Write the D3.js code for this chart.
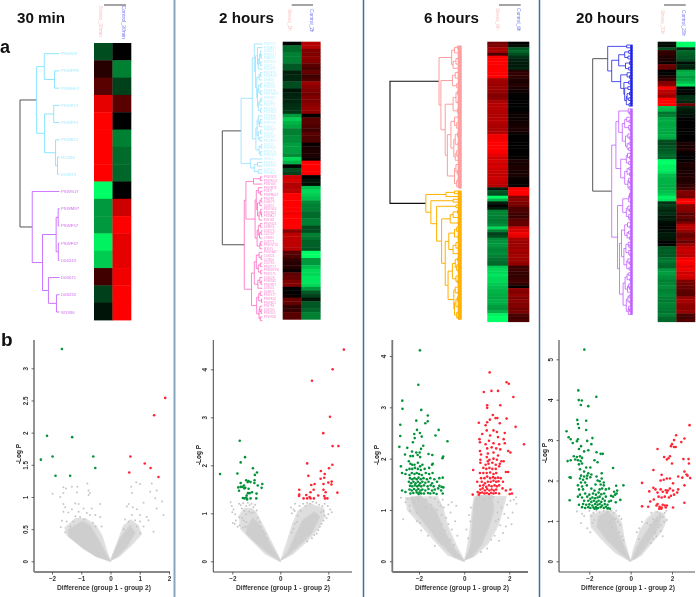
<!DOCTYPE html>
<html><head><meta charset="utf-8">
<script src="https://cdn.jsdelivr.net/npm/d3@7"></script>
<style>html,body{margin:0;padding:0;background:#fff}svg{display:block;font-family:"Liberation Sans",Arial,sans-serif;filter:blur(.45px)}</style>
</head><body><script>
// ---------- titles ----------
const panelTitles=["30 min","2 hours","6 hours","20 hours"];
const colHeaders=[["Stress_30min","Control_30min"],["Stress_2h","Control_2h"],["Stress_6h","Control_6h"],["Stress_20h","Control_20h"]];
// ---------- heatmap values ----------
const h30a=[-.3,.15,.35,.9,1,1,1,1,-1,-.6,-.6,-.95,-.8,.25,-.25,-.08];
const h30b=[0,-.5,-.25,.35,0,-.5,-.42,-.4,0,.8,1,.9,.9,.95,1,1];
const h2a=[0,-.42,-.42,-.5,-.5,-.5,-.35,-.35,-.12,-.15,-.15,-.3,-.3,-.08,-.13,-.15,-.15,-.18,-.2,-.22,-.6,-.8,-.7,-.65,-.5,-.5,-.55,-.55,-.62,-.62,-.62,-.55,-.85,-.7,0,-.3,-.25,
.8,.85,.7,.7,.75,1,1,1,1,1,.95,1,1,1,1,.55,.75,.75,.75,.75,.7,.35,.3,.2,.15,.15,.05,.38,.4,.5,.5,0,0,.03,.4,.4,.2,.22,.35,.35];
const h2b=[.7,.7,.5,.5,.55,.5,.35,.3,.4,.25,.3,.6,.55,.5,.45,.5,.5,.55,.6,.55,0,.35,.35,.3,.25,.35,.3,.3,.03,.1,.12,.12,.05,1,1,1,1,
.02,-.08,-.05,-.75,-.85,-.8,-.75,-.55,-.5,-.5,-.42,-.42,-.5,-.5,-.3,-.3,-.5,-.45,-.38,-.38,-.35,-1,-1,-.6,-.6,-.75,-.85,-.85,-.9,-.9,-.85,-.6,-.35,-.25,-.08,-.35,-.35,-.4,-.5,-.5];
const h6a=[.45,.5,.65,.65,.3,.98,1,1,.98,1,1,.98,1,.65,.62,.6,.62,.58,.55,.5,.55,.68,.7,.72,.7,.68,.68,.7,.72,.68,.66,.68,.7,.95,.95,.98,1,1,1,.98,.9,.82,.85,.8,.85,.8,.78,.75,.8,.78,.75,.72,
-.1,-.35,-.3,-1,-.7,-.12,0,-.1,-.5,-.52,-.5,-.48,-.5,-.55,-.85,-.5,-.25,-.3,-.55,-.58,-.6,-.55,-.52,-.55,-.5,-.45,-.42,-.4,-.8,-.85,-.85,-.9,-.85,-.85,-.8,-.75,-.72,-.7,-.68,-.65,-.7,-.68,-.62,-.6,-.7,-.95,-1,-1];
const h6b=[0,-.05,-.35,-.4,-.3,-.2,-.12,-.1,-.1,-.15,.15,.2,.18,.12,.1,.15,.1,.06,.03,-.01,0,0,0,-.02,0,.03,.05,.04,.06,.08,.1,.1,.06,0,0,.01,0,0,0,0,0,.02,.1,.08,.12,.12,.08,.1,.06,.03,.02,.03,
1,1,1,.5,.55,.5,.45,.3,.3,.25,.22,.35,.4,.4,.8,.85,.95,.9,.65,.6,.62,.6,.65,.6,.65,.62,.6,.55,.22,.25,.2,.2,.22,.25,.2,.02,.55,.5,.58,.5,.55,.5,.52,.45,.48,.3,.25,.3];
const h20a=[-.05,-.03,-.3,.2,.18,.12,.1,.05,.4,.4,0,-.02,.1,.2,.5,.55,1,.75,.7,.6,1,1,1,-.75,-.7,-.45,-.5,-.65,-.68,-.65,-.67,-.66,-.65,-.7,-.65,-.3,-.28,-.32,-.35,-.38,-.42,-.4,-1,-1,-.95,-.95,-.9,-.75,-.72,-.7,-.7,-.68,-.7,-.75,-.8,-.95,-.9,-.2,-.25,-.2,-.15,-.18,-.1,-.12,-.05,-.03,-.02,-.05,-.1,-.1,-.08,0,-.02,-.35,-.38,-.36,-.35,-.45,-.48,-.42,-.4,-.6,-.62,-.58,-.55,-.5,-.52,-.55,-.5,-.52,-.55,-.5,-.48,-.52,-.5,-.48,-.45,-.5,-.42,-.4];
const h20b=[-1,-1,-.15,-.4,-.38,-.35,-.3,-.05,-.15,-.12,-.65,-.7,-.6,-.65,-.75,-.9,-.02,-.03,0,-.18,-.2,-.15,.4,-.15,-.1,-.08,-.06,0,0,.01,0,0,-.01,0,0,.03,.12,.08,.15,.03,.02,0,.03,.1,.12,.08,.1,.1,.14,.12,.14,.18,.25,.5,.5,.45,1,1,.55,.55,.5,.35,.4,.3,.45,.7,.75,.6,.45,.4,.5,.4,.6,.75,.8,.75,.72,.95,1,.95,.9,.95,.8,.85,.8,.5,.45,.42,.4,.35,.35,.6,.65,.6,.55,.55,.6,.3,.28,.32];
// ---------- dendrogram: merge height between each pair of neighbouring leaves ----------
const g30=[.385,.128,.58,.146,.377,.1,.05,1,.69,.033,.085,.03,.43,.28,.077];
const g2=[.2,.12,.05,.03,.07,.04,.1,.17,.05,.08,.14,.04,.09,.05,.12,.03,.06,.1,.04,.25,.1,.05,.07,.13,.04,.1,.06,.16,.03,.08,.05,.53,.3,.12,.2,.1,1,
.05,.22,.41,.1,.05,.15,.03,.06,.12,.04,.02,.08,.18,.05,.1,.03,.07,.13,.04,.06,.45,.08,.03,.15,.05,.1,.04,.2,.06,.03,.11,.27,.05,.09,.02,.14,.06,.03,.08,.05];
const g6=[.06,.1,.04,.14,.05,.08,.03,.12,.316,.05,.09,.03,.13,.04,.07,.29,.06,.04,.08,.03,.05,.12,.03,.06,.23,.05,.1,.04,.07,.03,.15,.06,.04,.09,.03,.05,.11,.04,.07,.05,.09,.2,.04,.08,.03,.06,.1,.04,.05,.07,.03,
1,.1,.22,.5,.12,.43,.08,.35,.06,.12,.04,.16,.05,.28,.07,.04,.1,.05,.18,.03,.08,.05,.12,.04,.23,.06,.09,.04,.07,.05,.13,.03,.08,.06,.19,.04,.09,.05,.11,.06,.04,.08,.05,.1,.04,.07,.05];
const g20=[.15,.625,.1,.2,.12,.35,.08,.18,.1,.525,.14,.08,.3,.1,.22,.12,.2,.08,.14,.1,.16,.09,
1,.11,.08,.35,.15,.09,.2,.1,.07,.26,.12,.08,.18,.09,.14,.1,.42,.13,.08,.16,.1,.3,.09,.14,.08,.2,.1,.07,.12,.09,.525,.06,.08,.1,.05,.25,.12,.08,.16,.1,.09,.38,.13,.07,.2,.1,.14,.08,.28,.11,.09,.17,.1,.07,.22,.12,.08,.15,.09,.33,.1,.14,.07,.19,.1,.08,.13,.24,.09,.12,.07,.16,.1,.08,.11];
// ---------- leaf labels ----------
const leaves30=["PSWSI2","PSWFP8","PSWHU7","PSWK57","PSWFP1","PSWB21","H1I186","D06872","PSWGJ7","PSWM97","PSWF57","PSWF67","D06243","D06671","D08232","W1936"];
const leaves2=["PSWC57","PSWA91","D08614","PSWC17","PSA131","PSWD51","D08712","PSWK37","PSWP29","PSWA137","D08882","D09622","PSWL91","PSWP19","PSWGA37","PSWH21","D07161","PSWT37","PSWD27","PSWM31","PSWE63","PSWD87","PSWC61","D06971","PSWB17","P03281","PSWL47","PSWR71","D05521","PSWN13","PSWT19","PSWG83","W1411","PSWK71","PSWP97","D07151","PSWA53",
"PSWG28","PSWF022","PSWL66","PSWM78","P0977","PSWM607","PSWF9","D06973","D05857","PSWG24","PSWN67","PSWA17","P09168","PSWG21","D08854","D08773","C02787","L79985","D08771","PSWG770","M3971","PSWGA7","C09224","L02856","D05765","PSWT27","PSWLN791","PSWL75","D06028","PSWS32","PSWH27","D08561","D08874","PSWL77","PSWK02","PSWB21","P96794","D06780","PSW105","PSWS58"];
// ---------- volcano points [difference, -log p] ----------
const g30min=[[-1.66,3.3],[-2.17,1.95],[-1.31,1.93],[-2.38,1.58],[-1.98,1.63],[-.59,1.63],[-.52,1.45],[-1.88,1.33],[-1.38,1.33]];
const r30min=[[1.87,2.54],[1.49,2.27],[.68,1.63],[1.17,1.52],[1.37,1.45],[.64,1.38],[1.64,1.31]];
const n30min=[[-1.61,1.15],[-1.52,1.13],[-1.32,1.16],[-1.13,1.16],[-.79,1.21],[-1.61,1.06],[-1.98,1.05],[-1.72,1],[-1.15,1.07],[-.75,1.1],[-.7,1.06],[-.75,1.03],[-1.21,.9],[-1.09,.89],[-1.61,.89],[-1.55,.84],[-1.32,.81],[-.92,.82],[-.64,.82],[-.35,.89],[-1.61,.77],[-1.44,.76],[-1.09,.77],[-.81,.75],[-.7,.72],[-.52,.72],[-1.66,.63],[-1.27,.62],[-1.04,.69],[-1.7,.53],[-1.38,.54],[-.35,.69],[-.3,.54],[-.52,.54],[-1.5,.62],[-1.2,.7],[-.9,.65],[-.6,.6],[-1.55,.45],
[.71,1.16],[.88,1.23],[1.01,1.2],[1.41,1.21],[1.36,1.08],[1.58,1.1],[.73,1.06],[1.76,.93],[1.13,.91],[1.53,.98],[.62,.89],[.56,.85],[.76,.84],[.9,.81],[1.01,.72],[1.58,.82],[1.81,.72],[.73,.72],[1.24,.69],[1.47,.46],[1.3,.64],[.84,.64],[1.01,.62],[1.13,.54],[.9,.54],[1.01,.44],[.5,.65],[.62,.62],[.45,.5]];
const core30min=[[[0,0],[-.47,.07],[-.92,.2],[-1.44,.39],[-1.44,.49],[-.98,.62],[-.7,.56],[-.41,.33],[-.1,.07]],[[.02,.02],[.16,.18],[.33,.36],[.67,.56],[.84,.44],[.56,.23],[.22,.07]]];
const halo30min=[[[0,0],[-.5,.1],[-1,.25],[-1.5,.42],[-1.55,.52],[-1.2,.66],[-.85,.66],[-.5,.55],[-.3,.4],[-.12,.14]],[[.02,.02],[.3,.08],[.7,.25],[1.05,.42],[.95,.55],[.7,.64],[.45,.55],[.25,.3],[.08,.1]]];
const g2h=[[-2.51,1.82],[-1.69,2.51],[-1.47,2.17],[-1.65,2.06],[-1.14,1.94],[-1.79,1.83],[-.97,1.85],[-1.06,1.8],[-1.65,1.63],[-1.42,1.69],[-1.32,1.67],[-1.24,1.65],[-1.07,1.69],[-1.08,1.63],[-.75,1.61],[-.94,1.58],[-.78,1.53],[-1.51,1.58],[-1.75,1.54],[-1.65,1.55],[-1.46,1.53],[-1.32,1.51],[-1.72,1.47],[-1.18,1.44],[-.99,1.41],[-1.35,1.42],[-1.4,1.37],[-1,1.31],[-1.24,1.31],[-1.56,1.32],[-1.49,1.31],[-1.42,1.33],[-1.38,1.29],[-1.36,1.65],[-1.58,1.55],[-1.5,1.52],[-1.28,1.42]];
const r2h=[[2.65,4.41],[2.18,4],[1.32,3.76],[2.07,3.01],[1.79,2.67],[2.18,2.4],[2.42,2.4],[1.12,2.04],[2.17,2.01],[2.03,1.94],[1.69,1.88],[1.17,1.78],[1.85,1.82],[1.83,1.74],[1.68,1.72],[2.14,1.66],[2,1.64],[1.8,1.61],[2.13,1.6],[1.43,1.61],[1.29,1.59],[.79,1.49],[1.8,1.49],[1.39,1.49],[1.89,1.44],[1.26,1.44],[2.38,1.43],[.79,1.39],[.78,1.36],[1.08,1.38],[1.58,1.37],[1.83,1.36],[1.22,1.34],[.97,1.31],[1.12,1.31],[1.26,1.31],[1.4,1.31],[1.86,1.31],[1.96,1.31]];
const n2h=[[-2.07,1.23],[-2.02,1.15],[-1.95,1.08],[-2,1.02],[-1.88,.98],[-1.98,.8],[-1.85,.85],[-1.9,.78],[-1.78,.72],[-1.72,1.2],[-1.65,1.17],[-1.55,1.21],[-1.6,1.1],[-1.5,1.05],[-1.42,1.15],[-1.35,1.22],[-1.28,1.17],[-1.2,1.2],[-1.12,1.13],[-1.05,1.18],[-1.42,.98],[-1.3,1.03],[-1.2,1],[-1.1,1.02],[-.98,1.06],[-1.72,.92],[-1.6,.9],[-1.52,.85],[-1.42,.82],[-1.7,.75],[-1.55,.7],[-1.45,.72],[-.95,.9],[-.85,.82],[-.8,.72],[-.7,.62],[-.62,.58],[-.55,.48],
[.45,1.12],[.48,1],[.55,1.08],[.62,1.2],[.6,1.05],[.72,.95],[.8,1.15],[.85,1.05],[.7,.82],[.6,.78],[.55,.68],[.48,.6],[.95,1.2],[1.05,1.15],[1.12,1.22],[1.25,1.2],[1.35,1.24],[1.5,1.22],[1.62,1.18],[1.75,1.15],[1.85,1.2],[1.98,1.15],[2.08,1.08],[2.15,1.02],[1.8,1.05],[1.7,1.02],[1.85,.95],[1.92,.9],[1.8,.85],[1.72,.78],[1.65,.72],[1.58,.65],[1.52,.58],[1.42,.55],[1.32,.48],[1.12,.42],[2,.98]];
const core2h=[[[0,0],[-.51,.17],[-1.07,.41],[-1.42,.58],[-1.38,.72],[-1.14,.9],[-.86,.76],[-.51,.44],[-.1,.1]],[[.04,.03],[.32,.2],[.53,.44],[.94,.86],[1.43,1.03],[1.64,.93],[1.29,.58],[.74,.31],[.25,.1]]];
const halo2h=[[[0,0],[-.6,.15],[-1.2,.45],[-1.65,.68],[-1.7,.95],[-1.5,1.1],[-1.2,1.1],[-1,1],[-.7,.72],[-.4,.42],[-.1,.12]],[[.03,.03],[.5,.15],[1.1,.42],[1.6,.7],[1.85,.95],[1.8,1.1],[1.2,1.2],[.75,1.05],[.5,.75],[.3,.42],[.1,.12]]];
const g6h=[[-1.96,4.11],[-2.03,3.44],[-2.74,3.13],[-2.73,2.97],[-1.9,2.95],[-1.61,2.84],[-2.12,2.74],[-1.61,2.73],[-1.72,2.69],[-2.83,2.66],[-2.09,2.56],[-1.13,2.56],[-1.96,2.5],[-2.21,2.48],[-2.83,2.44],[-1.88,2.43],[-1.27,2.45],[-2.19,2.4],[-.74,2.34],[-2.27,2.32],[-2.87,2.23],[-1.81,2.25],[-2.52,2.21],[-1.91,2.19],[-2.31,2.14],[-2.12,2.12],[-1.97,2.12],[-2.62,2.08],[-1.58,2.09],[-1.41,2.07],[-2.38,2.05],[-2.27,2.05],[-2.06,2.07],[-1.95,2.03],[-.93,2.04],[-.96,2.01],[-2.8,1.85],[-1.39,1.9],
[-2.45,1.95],[-2.38,1.9],[-2.3,1.88],[-2.2,1.88],[-2.05,1.92],[-1.95,1.85],[-1.85,1.88],[-2.55,1.78],[-2.42,1.8],[-2.3,1.8],[-2.18,1.82],[-2.05,1.8],[-1.92,1.78],[-1.75,1.8],[-1.55,1.82],[-1.42,1.88],[-2.75,1.72],[-2.6,1.7],[-2.42,1.68],[-2.32,1.72],[-2.2,1.7],[-2.1,1.72],[-2,1.7],[-1.88,1.68],[-1.7,1.72],[-1.55,1.7],[-1.4,1.72],[-1.1,1.62],[-.95,1.63],
[-2.4,1.62],[-2.3,1.6],[-2.2,1.62],[-2.1,1.6],[-2.02,1.63],[-1.92,1.6],[-1.8,1.62],[-1.65,1.6],[-1.5,1.62],[-1.32,1.6],[-2.45,1.55],[-2.35,1.52],[-2.25,1.55],[-2.15,1.52],[-2.05,1.55],[-1.95,1.52],[-1.85,1.55],[-1.72,1.53],[-1.58,1.55],[-1.42,1.52],[-1.2,1.55],[-2.4,1.47],[-2.3,1.46],[-2.18,1.48],[-2.08,1.46],[-2,1.48],[-1.9,1.46],[-1.78,1.48],[-1.62,1.46],[-1.48,1.48],[-1.35,1.46],[-1.1,1.47],[-1,1.45],[-2.75,1.38],[-2.6,1.35],[-2.42,1.4],[-2.32,1.38],[-2.22,1.41],[-2.12,1.38],[-2.03,1.41],[-1.93,1.38],[-1.85,1.4],[-1.72,1.38],[-1.58,1.41],[-1.42,1.38],[-1.3,1.4],[-1.15,1.42],[-1.02,1.38],[-.92,1.44],
[-2.38,1.32],[-2.25,1.33],[-2.1,1.34],[-2.02,1.31],[-1.98,1.34],[-1.9,1.32],[-1.78,1.32],[-1.6,1.33],[-1.5,1.32],[-1.22,1.31],[-.95,1.32],[-1.35,1.33]];
const r6h=[[1.13,3.68],[1.88,3.49],[1.98,3.46],[.87,3.3],[1.21,3.32],[1.5,3.32],[2.18,3.2],[1.02,3.04],[1.02,2.99],[1.6,3.04],[1.27,2.85],[1.39,2.79],[1.47,2.79],[1.14,2.76],[1.88,2.78],[.65,2.7],[1.02,2.71],[.95,2.65],[1.58,2.69],[2.28,2.62],[2.65,2.28],
[1,2.55],[1.3,2.55],[1.45,2.52],[1.8,2.5],[.8,2.48],[1.15,2.45],[1.5,2.42],[1.75,2.38],[.68,2.38],[.7,2.32],[1.1,2.35],[1.3,2.3],[1.55,2.28],[1.8,2.3],[.95,2.28],[1.02,2.2],[1.22,2.22],[1.42,2.2],[1.6,2.18],[1.95,2.15],[2.05,2.12],[.7,2.15],[.75,2.08],[1.05,2.1],[1.3,2.12],[1.5,2.06],[.72,1.98],[1,2.03],[1.12,1.98],[1.05,1.95],[1.3,2],[1.45,1.98],[1.65,1.95],[1.75,1.95],
[.72,1.92],[.95,1.88],[1.08,1.9],[1.25,1.92],[1.4,1.88],[1.58,1.9],[.4,1.78],[.85,1.82],[.98,1.8],[1.12,1.82],[1.25,1.8],[1.4,1.8],[1.55,1.85],[1.85,1.74],[1.95,1.74],[.7,1.72],[.85,1.72],[1,1.72],[1.15,1.73],[1.3,1.7],[1.42,1.72],[.75,1.62],[.9,1.62],[1.02,1.65],[1.15,1.62],[1.28,1.64],[1.38,1.62],[1.5,1.63],[1.62,1.62],[.58,1.55],[.78,1.55],[.92,1.52],[1.05,1.55],[1.18,1.55],[1.3,1.57],[1.42,1.55],[1.52,1.56],[1.72,1.55],
[.7,1.47],[.85,1.48],[.98,1.45],[1.1,1.48],[1.22,1.46],[1.35,1.48],[1.45,1.46],[1.55,1.48],[.72,1.4],[.82,1.42],[.92,1.38],[1.02,1.41],[1.12,1.38],[1.22,1.4],[1.32,1.38],[1.42,1.4],[1.7,1.42],[1.85,1.38],[2.05,1.4],[.6,1.35],[.7,1.33],[.8,1.34],[.9,1.32],[1,1.33],[1.1,1.31],[1.2,1.33],[1.3,1.32],[1.4,1.33],[1.55,1.32],[.38,1.3],[.65,1.3],[2.02,1.31],[2.12,1.32]];
const n6h=[[-2.8,1.24],[-2.6,1.15],[-2.5,1.22],[-2.42,1.08],[-2.4,.98],[-2.7,.82],[-2.3,1.25],[-2.2,1.15],[-2.1,.95],[-2.05,1.22],[-1.95,.75],[-1.7,1.2],[-1.5,1.25],[-1.3,1.22],[-1.15,1.15],[-.95,1.2],[-1.05,1.08],[-.9,1.05],[-1.2,1],[-1,.9],[-.7,1.1],[-.55,1.15],[-.35,1.08],[-.6,.95],[-.8,.85],[-.4,.78],[-.7,.72],[-.55,.62],[-1,.72],[-.85,.6],[-.3,.5],[-.6,.42],[-.45,.32],[-1.9,.6],[-2.1,.78],[-1.6,.5],[-1.3,.3],[-1.7,1.05],[-1.45,1.1],
[.22,.9],[.1,.62],[.28,.78],[.3,1.05],[.18,.45],[.52,1.22],[.68,1.25],[.9,1.22],[1.1,1.24],[1.3,1.26],[1.5,1.15],[1.65,1.05],[1.48,.95],[1.52,.82],[1.4,.78],[1.6,.7],[1.72,.55],[1.35,.5],[1.2,.42],[2.2,1.2],[2.32,1.12],[2.05,1.18],[1.9,1.1],[2.15,.95],[1.95,.85],[1.85,.68],[1.78,.92],[2.3,1.25],[2.1,.72],[1.02,.25],[.75,.18],[1.55,.4]];
const core6h=[[[0,0],[-.46,.09],[-1.13,.38],[-1.64,.68],[-2.16,.97],[-2.39,1.23],[-1.94,1.28],[-1.27,1],[-.9,.61],[-.39,.22],[-.09,.06]],[[.04,.03],[.28,.29],[.36,.68],[.43,1.13],[.58,1.28],[1.24,1.28],[1.32,1],[1.1,.68],[.8,.35],[.36,.09]]];
const halo6h=[[[0,0],[-.7,.12],[-1.3,.4],[-2,.75],[-2.5,1],[-2.6,1.24],[-1.2,1.26],[-.95,1.05],[-.75,.7],[-.35,.3],[-.08,.08]],[[.03,.03],[.45,.1],[1.05,.35],[1.5,.7],[1.7,1],[1.85,1.26],[.45,1.26],[.35,.95],[.25,.55],[.12,.2]]];
const g20h=[[-2.24,5.24],[-2.53,4.23],[-2.51,3.99],[-2.36,3.98],[-1.66,4.07],[-2.41,3.87],[-2.05,3.84],[-2.58,3.5],[-2.15,3.48],[-2.55,3.4],[-2.5,3.3],[-3.1,3.22],[-2.15,3.25],[-3,3.07],[-2.9,3.02],[-1.85,3.05],[-2.55,3.02],[-2.6,2.97],[-2.8,2.93],[-2.1,2.98],[-1.9,2.9],[-2.4,2.85],[-2.5,2.78],[-2.25,2.72],[-2.05,2.75],[-1.65,2.7],[-1.45,2.66],[-1.35,2.66],[-2.75,2.6],[-2.6,2.58],[-2.45,2.6],[-2.35,2.56],[-2.9,2.5],[-2.68,2.52],[-2.55,2.5],[-2.42,2.48],[-1.75,2.5],[-3.05,2.48],[-2.5,2.4],[-2.35,2.42],[-1.6,2.45],[-2.45,2.28],[-2.15,2.32],[-1.95,2.32],[-.85,2.31],[-2.25,2.22],[-2.05,2.18],[-1.4,2.18],[-2.4,2.12],[-2.25,2.1],[-2.1,2.12],[-1.9,2.15],[-1.65,2.1],[-1.4,2.05],[-2.95,2.08],[-2.9,2.07],[-2.45,2.05],[-2.3,2.02],[-2.12,2.05],[-1.95,2.08],[-1.6,2],[-1.5,1.98],[-2.4,1.95],[-2.2,1.95],[-1.3,1.95],
[-2.55,1.88],[-2.35,1.85],[-2.12,1.88],[-1.7,1.9],[-1.45,1.9],[-1.3,1.88],[-.7,1.87],[-.35,1.88],[-2.5,1.78],[-2.3,1.78],[-1.9,1.8],[-1.75,1.75],[-1.5,1.78],[-1.38,1.8],[-1.2,1.78],[-1.05,1.8],[-.8,1.72],[-.65,1.75],[-2.45,1.65],[-2.2,1.68],[-2,1.65],[-1.82,1.68],[-1.68,1.65],[-1.55,1.7],[-1.42,1.66],[-1.28,1.68],[-.95,1.62],[-.75,1.65],[-.68,1.68],[-2.55,1.6],[-2.35,1.58],[-2.1,1.6],[-1.95,1.55],[-1.85,1.58],[-1.72,1.56],[-1.6,1.58],[-1.5,1.6],[-1.35,1.55],[-1.2,1.6],[-.85,1.6],[-.5,1.52],[-2.95,1.51],[-2.25,1.5],[-2.05,1.5],[-1.9,1.47],[-1.78,1.5],[-1.65,1.47],[-1.55,1.5],[-1.42,1.47],[-1.25,1.5],[-1.05,1.48],[-.95,1.5],[-.72,1.46],
[-2.5,1.4],[-2.3,1.42],[-2.15,1.4],[-2,1.41],[-1.85,1.38],[-1.72,1.42],[-1.6,1.4],[-1.5,1.42],[-1.38,1.38],[-1.25,1.42],[-1.12,1.4],[-2.35,1.34],[-2.2,1.32],[-2.05,1.34],[-1.95,1.32],[-1.8,1.33],[-1.68,1.34],[-1.58,1.32],[-1.45,1.34],[-1.3,1.32],[-1.2,1.35],[-1.08,1.32],[-1,1.3],[-1.12,1.31],[-1.75,1.3],[-1.65,1.3]];
const r20h=[[2.85,3.37],[2.2,3.12],[2.6,3.04],[2.1,3],[2.45,2.95],[2,2.9],[1.95,2.85],[2.18,2.83],[2.1,2.83],[1.3,2.78],[1.62,2.58],[1.9,2.6],[1.83,2.55],[1.75,2.52],[2.55,2.53],[2.8,2.53],[2.82,2.42],[2,2.42],[1.1,2.26],[2.6,2.22],[2.7,2.15],[2.75,2.12],[1.5,2.14],[2.3,2.1],[2.5,2.07],[2.88,2.06],[1.9,2.05],[1.75,2.05],[1.6,2.02],[1.45,2],[.55,1.94],[2.05,1.93],[2.6,1.88],[1.1,1.82],[1.2,1.78],[1.45,1.78],[1.7,1.76],[1.8,1.75],[1.9,1.8],[2.05,1.75],[2.3,1.78],[.9,1.73],[1.3,1.7],[1.55,1.72],[1.75,1.7],[1.95,1.62],[2.25,1.7],[1.35,1.6],[1.5,1.58],[1.65,1.6],[1.85,1.58],[2.1,1.65],[1.12,1.53],[2.6,1.45],[.95,1.48],[1.3,1.42],[1.55,1.4],[1.75,1.38],[.55,1.36],[.85,1.35],[1.25,1.38],[1.4,1.35],[1.5,1.33],[1.65,1.38],[1.7,1.33],[2.05,1.33],[1.38,1.3],[1.48,1.3]];
const n20h=[[-2.6,1.23],[-2.35,1.18],[-2.25,1.12],[-2.4,.95],[-2,1.25],[-1.9,1.12],[-1.8,1.2],[-1.65,1.25],[-1.75,1.02],[-2.1,.82],[-1.95,.72],[-1.85,.95],[-1.5,1.22],[-1.3,1.25],[-1.1,1.22],[-.95,1.25],[-.82,1.2],[-.7,1.25],[-.55,1.12],[-.45,1.05],[-.62,.98],[-.72,1.05],[-.85,1.05],[-.5,.9],[-.55,.72],[-.42,.62],[-.35,.52],[-1,.95],[-.9,.85],
[.55,.98],[.42,.82],[.3,.72],[.8,.95],[.95,.9],[1.08,1.05],[1.22,1],[1.3,1.22],[1.42,1.18],[1.55,1.1],[1.65,1.2],[1.72,1.25],[1.75,1.02],[1.62,.98],[1.45,.9],[1.35,.85],[1.45,.75],[1.55,.62],[1.25,.62],[.98,.45],[1.1,.55],[1.2,.7],[.4,.55],[1,1.2]];
const core20h=[[[0,0],[-.5,.2],[-1.15,.53],[-1.63,.86],[-1.55,1.11],[-1.15,1.23],[-.82,1.11],[-.58,.69],[-.1,.12]],[[.05,.03],[.31,.36],[.71,.69],[1.27,1.11],[1.52,1.15],[1.27,.78],[.63,.28],[.23,.07]]];
const halo20h=[[[0,0],[-.7,.2],[-1.4,.55],[-1.9,.85],[-1.95,1.15],[-1.1,1.26],[-.75,1.2],[-.45,.95],[-.3,.5],[-.08,.1]],[[.03,.03],[.5,.15],[1,.45],[1.5,.75],[1.7,1],[1.6,1.18],[1.2,1.24],[.8,1.05],[.45,.75],[.15,.3]]];
// ---------- tick labels ----------
const xt30=[-2,-1,0,1,2], yt30=[0,.5,1,1.5,2,2.5,3];
const xt2=[-2,0,2], yt2=[0,1,2,3,4];
const xt6=[-2,0,2], yt6=[0,1,2,3,4];
const xt20=[-2,0,2], yt20=[0,1,2,3,4,5];
const xTitle="Difference (group 1 - group 2)", yTitle="-Log P";

// ---------- layout ----------
const svg=d3.select("body").append("svg").attr("width",696).attr("height",597).attr("viewBox","0 0 696 597");
svg.append("rect").attr("width",696).attr("height",597).attr("fill","#fff");

[[174.5,"#86a6c2",2],[363.5,"#3f6f9c",1.5],[539.5,"#3f6f9c",1.5]].forEach(([x,c,w])=>svg.append("line").attr("x1",x).attr("x2",x).attr("y1",0).attr("y2",597).attr("stroke",c).attr("stroke-width",w));

const heatColor=d3.scaleLinear().domain([-1,0,1]).range(["#00ff66","#000000","#ff0000"]);

function buildTree(g,lo,hi,ys){
  if(lo===hi) return {y:ys(lo),h:0,leaf:lo};
  let k=lo; for(let i=lo;i<hi;i++) if(g[i]>g[k]) k=i;
  const a=buildTree(g,lo,k,ys), b=buildTree(g,k+1,hi,ys);
  return {h:g[k],y:(a.y+b.y)/2,kids:[a,b]};
}
function treePath(n,xs,p){
  if(!n.kids) return;
  const X=xs(n.h);
  p.moveTo(X,n.kids[0].y); p.lineTo(X,n.kids[1].y);
  n.kids.forEach(c=>{p.moveTo(X,c.y); p.lineTo(xs(c.h),c.y); treePath(c,xs,p);});
}
function heatPanel(o){
  const g=svg.append("g");
  g.append("text").attr("x",o.tx).attr("y",23).attr("font-size",15.2).attr("font-weight","bold").attr("fill","#111").text(o.title);
  const rows=d3.range(o.a.length);
  const yb=d3.scaleBand().domain(rows).range(o.heatY);
  const xb=d3.scaleBand().domain([0,1]).range(o.heatX);
  [o.a,o.b].forEach((vals,c)=>{
    g.append("g").selectAll("rect").data(vals).join("rect")
      .attr("x",xb(c)).attr("width",xb.bandwidth()+.3).attr("y",(d,i)=>yb(i)).attr("height",yb.bandwidth()+.4)
      .attr("fill",d=>heatColor(d));
  });
  g.append("line").attr("x1",o.bar[0]).attr("x2",o.bar[1]).attr("y1",5).attr("y2",5).attr("stroke","#333").attr("stroke-width",.9);
  o.heads.forEach((t,i)=>g.append("text").attr("transform",`translate(${o.headX[i]-1.8},${o.headY}) rotate(90)`).attr("font-size",o.headSize).attr("fill",i?"#7777ee":"#f8c4c4").text(t));
  const ys=d3.scaleLinear().domain([0,o.a.length-1]).range(o.treeY);
  const xs=d3.scaleLinear().domain([0,1]).range(o.treeX);
  const n=o.gaps.length;
  let k=0; for(let i=0;i<n;i++) if(o.gaps[i]>o.gaps[k]) k=i;
  const A=buildTree(o.gaps,0,k,ys),B=buildTree(o.gaps,k+1,n,ys);
  const rootX=xs(1);
  const rp=d3.path(); rp.moveTo(xs(A.h),A.y); rp.lineTo(rootX,A.y); rp.lineTo(rootX,B.y); rp.lineTo(xs(B.h),B.y);
  g.append("path").attr("d",rp.toString()).attr("fill","none").attr("stroke",o.rootColor).attr("stroke-width",o.rootW);
  [[A,o.colors[0]],[B,o.colors[1]]].forEach(([t,c])=>{
    const p=d3.path(); treePath(t,xs,p);
    g.append("path").attr("d",p.toString()).attr("fill","none").attr("stroke",c).attr("stroke-width",o.treeW);
  });
  if(o.band){
    [[0,k,o.colors[0]],[k+1,n,o.colors[1]]].forEach(([a,b,c])=>
      g.append("line").attr("x1",xs(0)-o.band/2).attr("x2",xs(0)-o.band/2).attr("y1",ys(a)).attr("y2",ys(b)).attr("stroke",c).attr("stroke-width",o.band));
  }
  if(o.labels){
    g.append("g").selectAll("text").data(o.labels).join("text")
      .attr("x",o.treeX[0]+1.5).attr("y",(d,i)=>ys(i)+o.labelSize*.35).attr("font-size",o.labelSize)
      .attr("fill",(d,i)=>i<=k?o.labelColors[0]:o.labelColors[1]).text(d=>d);
  }
}
function volcano(o){
  const g=svg.append("g");
  const x=d3.scaleLinear().domain(o.xd).range(o.xr);
  const y=d3.scaleLinear().domain(o.yd).range(o.yr);
  const ax=g.append("g").attr("transform",`translate(0,${o.axisY})`).call(d3.axisBottom(x).tickValues(o.xt).tickSize(2.5).tickFormat(d3.format("d")));
  const ay=g.append("g").attr("transform",`translate(${o.axisX},0)`).call(d3.axisLeft(y).tickValues(o.yt).tickSize(2.5).tickFormat(d=>d));
  ax.select(".domain").attr("d",`M${o.axisX},0H${o.xEnd}`);
  ay.select(".domain").attr("d",`M0,340V${o.axisY}`);
  [ax,ay].forEach(a=>{
    a.select(".domain").attr("stroke",o.axisC).attr("stroke-width",o.axisW);
    a.selectAll(".tick line").attr("stroke","#444").attr("stroke-width",.8);
    a.selectAll("text").attr("font-family","inherit").attr("font-size",6.3).attr("font-weight","bold").attr("fill","#333");
  });
  ax.selectAll("text").attr("dy",".55em").attr("y",5.5);
  ay.selectAll("text").attr("transform","rotate(-90)").attr("text-anchor","middle").attr("x",null).attr("y",-6).attr("dy",0);
  const ln=d3.line().x(d=>x(d[0])).y(d=>y(d[1])).curve(d3.curveLinearClosed);
  g.append("g").selectAll("path").data(o.halo).join("path").attr("d",ln).attr("fill","#dedede").attr("stroke","#e2e2e2").attr("stroke-width",1.5).attr("stroke-linejoin","round");
  g.append("g").selectAll("path").data(o.core).join("path").attr("d",ln).attr("fill","#cecece").attr("stroke","#d2d2d2").attr("stroke-width",1.2).attr("stroke-linejoin","round");
  const pts=(data,c,r)=>g.append("g").selectAll("circle").data(data).join("circle").attr("cx",d=>x(d[0])).attr("cy",d=>y(d[1])).attr("r",r).attr("fill",c);
  pts(o.n,"#c6c6c6",1);
  pts(o.gr,"#03923a",1.3);
  pts(o.re,"#ff2535",1.3);
  g.append("text").attr("x",o.xTitleX).attr("y",589.5).attr("text-anchor","middle").attr("font-size",6.7).attr("font-weight","bold").attr("fill","#333").text(xTitle);
  g.append("text").attr("transform",`translate(${o.yTitleX},${o.yTitleY}) rotate(-90)`).attr("text-anchor","middle").attr("font-size",6.5).attr("font-weight","bold").attr("fill","#222").text(yTitle);
}

svg.append("text").attr("x",0).attr("y",53).attr("font-size",18).attr("font-weight","bold").attr("fill","#111").text("a");
svg.append("text").attr("x",1).attr("y",346).attr("font-size",19).attr("font-weight","bold").attr("fill","#111").text("b");

heatPanel({title:panelTitles[0],tx:17,a:h30a,b:h30b,heatX:[94,131],heatY:[43,320],heads:colHeaders[0],headSize:5.2,headX:[101,124],headY:5.5,bar:[104,126],gaps:g30,treeX:[59.5,20],treeY:[53.7,312],colors:["#7fe4ff","#c766ff"],rootColor:"#555",rootW:1,treeW:.9,labels:leaves30,labelSize:4.3,labelColors:["#a5ecff","#d06cf0"]});
heatPanel({title:panelTitles[1],tx:219,a:h2a,b:h2b,heatX:[282.7,320.3],heatY:[41.7,319.3],heads:colHeaders[1],headSize:4.8,headX:[290,311.7],headY:9,bar:[291.7,313],gaps:g2,treeX:[262.3,222.3],treeY:[44,317],colors:["#82ddff","#ff55bb"],rootColor:"#555",rootW:1,treeW:.7,labels:leaves2,labelSize:3,labelColors:["#b8f0ff","#ff88d2"]});
heatPanel({title:panelTitles[2],tx:424,a:h6a,b:h6b,heatX:[487.3,529],heatY:[41.7,321.7],heads:colHeaders[2],headSize:4.8,headX:[497.7,519],headY:8,bar:[499,520.7],gaps:g6,treeX:[461.7,390],treeY:[46,322],colors:["#ff9e9e","#ffb000"],rootColor:"#111",rootW:1.1,treeW:1,band:4});
heatPanel({title:panelTitles[3],tx:576,a:h20a,b:h20b,heatX:[657.7,695],heatY:[41.7,321.7],heads:colHeaders[3],headSize:4.8,headX:[662.7,684],headY:10,bar:[664,685.7],gaps:g20,treeX:[632.7,592.7],treeY:[45,320],colors:["#2222e6","#c060ff"],rootColor:"#555",rootW:1,treeW:.8,band:2.5});

volcano({xd:[-2,2],xr:[52,169],yd:[0,3],yr:[561.3,368.3],xt:xt30,yt:yt30,axisX:34,axisY:572,xEnd:170,axisC:"#888",axisW:1.8,core:core30min,halo:halo30min,n:n30min,gr:g30min,re:r30min,xTitleX:104,yTitleX:21,yTitleY:454});
volcano({xd:[-2,2],xr:[232.3,328.3],yd:[0,4],yr:[561.3,369.3],xt:xt2,yt:yt2,axisX:213.3,axisY:572,xEnd:352,axisC:"#444",axisW:1,core:core2h,halo:halo2h,n:n2h,gr:g2h,re:r2h,xTitleX:283,yTitleX:201,yTitleY:455});
volcano({xd:[-2,2],xr:[419,509.3],yd:[0,4],yr:[561.3,356],xt:xt6,yt:yt6,axisX:392.3,axisY:572,xEnd:528,axisC:"#777",axisW:1.8,core:core6h,halo:halo6h,n:n6h,gr:g6h,re:r6h,xTitleX:462,yTitleX:379,yTitleY:455});
volcano({xd:[-2,2],xr:[589.3,672],yd:[0,5],yr:[561.3,359.3],xt:xt20,yt:yt20,axisX:559,axisY:572,xEnd:695,axisC:"#555",axisW:1.2,core:core20h,halo:halo20h,n:n20h,gr:g20h,re:r20h,xTitleX:628,yTitleX:547,yTitleY:453});
</script></body></html>
